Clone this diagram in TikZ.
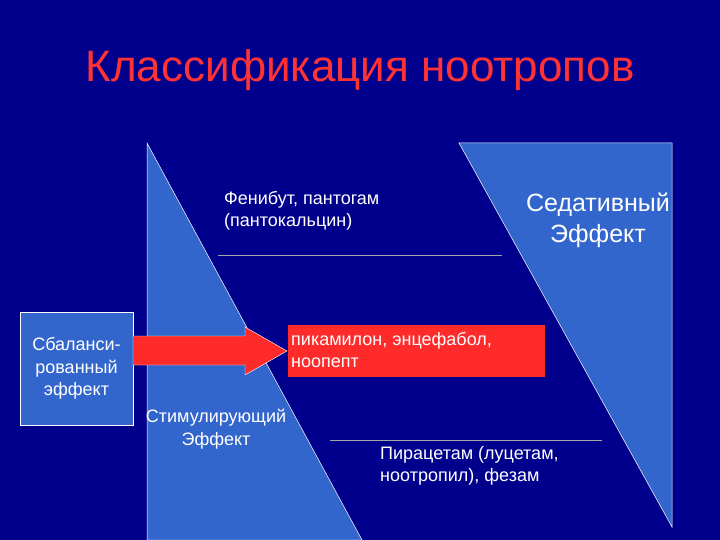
\documentclass[tikz,border=0pt]{standalone}
\usepackage{fontspec}
\setmainfont{Liberation Sans}
\begin{document}
\begin{tikzpicture}[x=1pt,y=-1pt,
  tri/.style={fill=tri,draw=white,line width=0.5pt},
  lbl/.style={text=white,font=\fontsize{18}{22.5}\selectfont,align=left},
  rule/.style={draw=gray!70,line width=0.5pt}]
\definecolor{bg}{HTML}{00008C}
\definecolor{tri}{HTML}{3366CC}
\definecolor{ttl}{HTML}{FF3333}
\definecolor{rd}{HTML}{FF2A2A}
\fill[bg] (0,0) rectangle (720,540);
\useasboundingbox (0,0) rectangle (720,540);
\node[text=ttl,font=\fontsize{44}{50}\selectfont] (title) at (360,70) {Классификация ноотропов};
\draw[tri] (147,143) -- (147,540) -- (362,540) -- cycle;
\draw[tri] (459,143) -- (672,143) -- (672,527) -- cycle;
\coordinate (r1a) at (218,255); \coordinate (r1b) at (502,255);
\coordinate (r2a) at (330,440); \coordinate (r2b) at (602,440);
\draw[rule] (r1a) -- (r1b);
\draw[rule] (r2a) -- (r2b);
\node[lbl,anchor=north west,inner sep=0pt] (fen) at (224,191) {Фенибут, пантогам\\(пантокальцин)};
\node[text=white,font=\fontsize{25}{31}\selectfont,align=center] (sed) at (598,220) {Седативный\\Эффект};
\node[draw=white,fill=tri,line width=0.5pt,minimum width=113pt,minimum height=113pt,lbl,align=center,inner sep=0pt] (bal) at (76.5,368.5) {Сбаланси-\\рованный\\эффект};
\node[fill=rd,minimum width=257pt,minimum height=52pt,anchor=north west,inner sep=0pt] (pk) at (288,325) {};
\node[lbl,anchor=north west,inner sep=0pt] (pkt) at (291,332) {пикамилон, энцефабол,\\ноопепт};
\fill[rd,draw=white,line width=0.4pt] (133,336) -- (245,336) -- (245,327) -- (287,351) -- (245,375) -- (245,365) -- (133,365) -- cycle;
\node[lbl,align=center] (stim) at (216,429) {Стимулирующий\\Эффект};
\node[lbl,anchor=north west,inner sep=0pt] (pir) at (380,446) {Пирацетам (луцетам,\\ноотропил), фезам};
\end{tikzpicture}
\end{document}
